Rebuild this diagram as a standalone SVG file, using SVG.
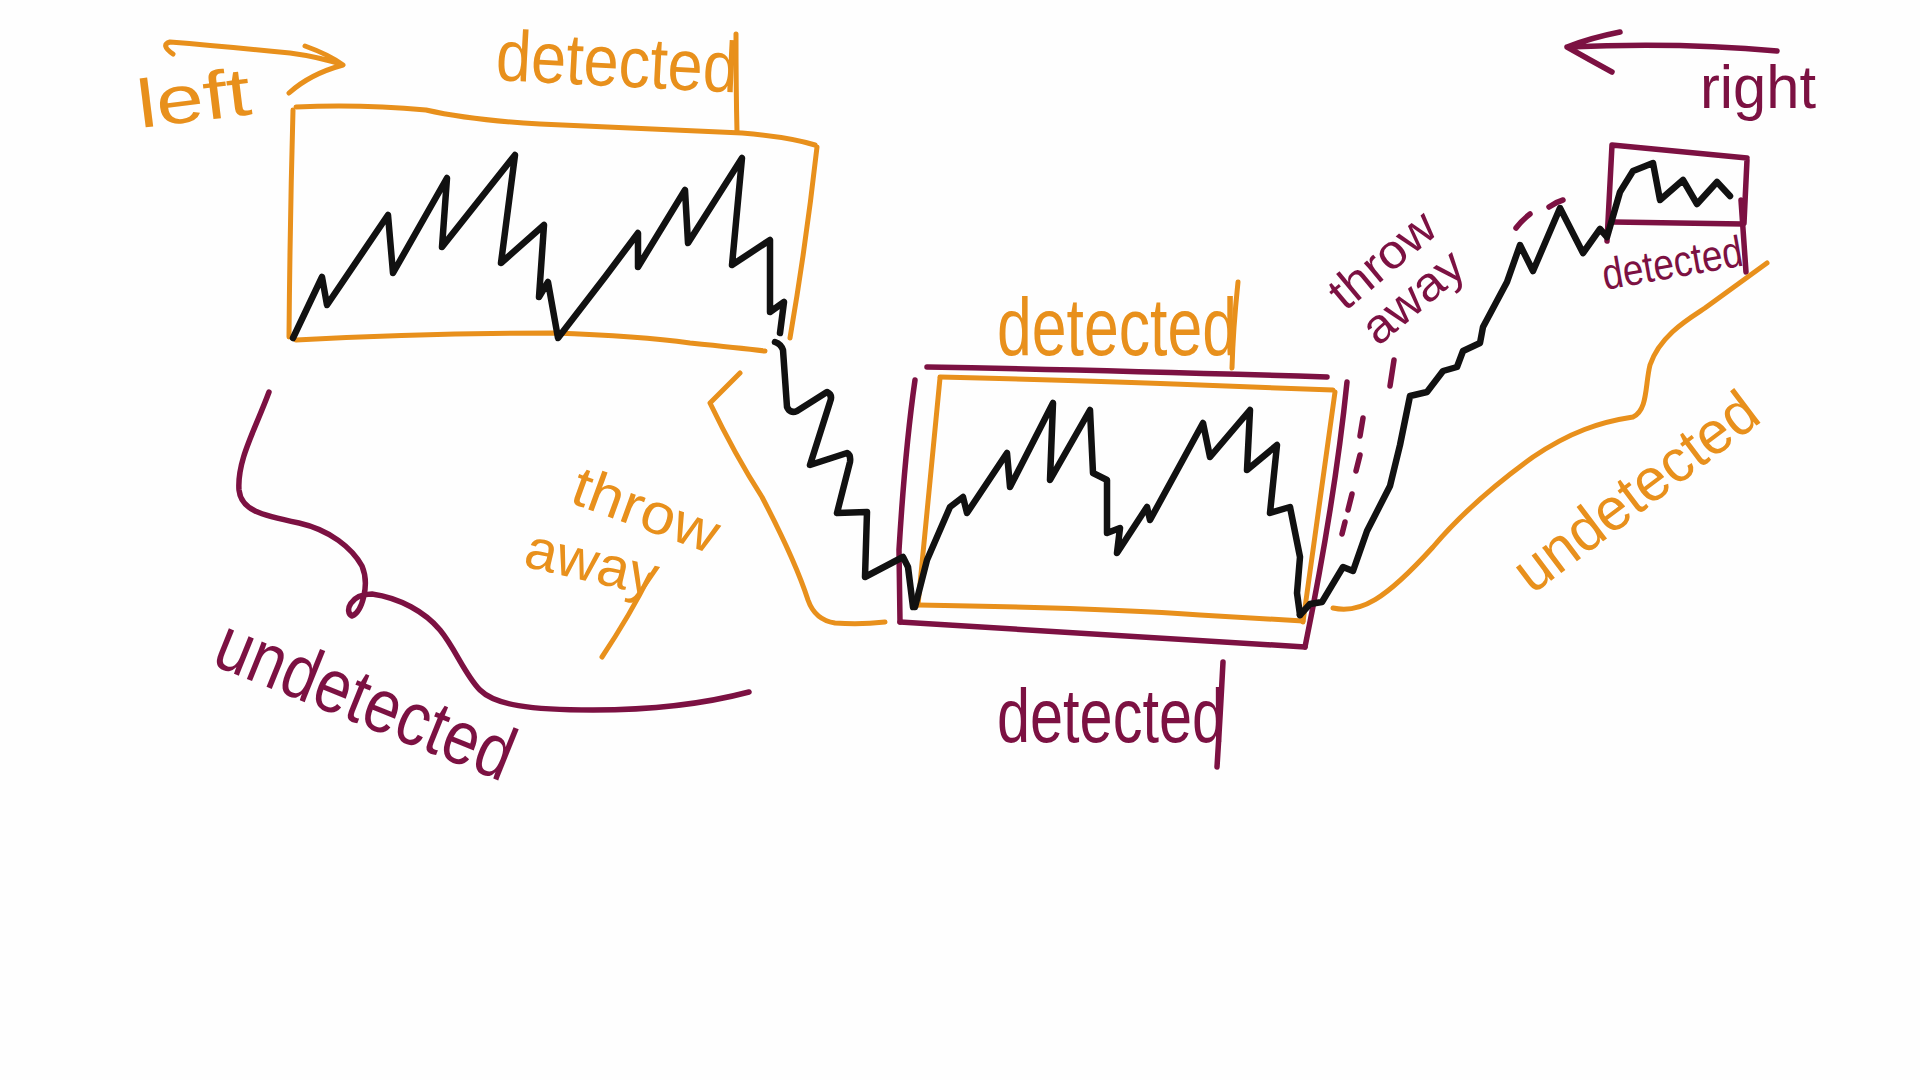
<svg xmlns="http://www.w3.org/2000/svg" width="1920" height="1080" viewBox="0 0 1920 1080">
<style>
.o{fill:none;stroke:#E8901C;stroke-width:5;stroke-linecap:round;stroke-linejoin:round}
.m{fill:none;stroke:#7C1142;stroke-width:5.5;stroke-linecap:round;stroke-linejoin:round}
.k{fill:none;stroke:#111111;stroke-width:6.5;stroke-linecap:round;stroke-linejoin:round}
.to{fill:#E8901C;font-family:"Liberation Sans",Arial,sans-serif}
.tm{fill:#7C1142;font-family:"Liberation Sans",Arial,sans-serif}
</style>
<rect width="1920" height="1080" fill="#FEFEFE"/>

<g id="left-label">
<path class="o" d="M173,54 Q160,45 170,42 Q220,46 290,53 Q320,57 343,65 M305,46 Q330,55 343,65 Q310,74 289,93"/>
<text class="to" x="140" y="128" font-size="68" textLength="114" lengthAdjust="spacingAndGlyphs" transform="rotate(-7 140 128)">left</text>
</g>

<g id="right-label">
<path class="m" d="M1777,51 Q1680,42 1567,47 M1620,32 Q1590,38 1567,47 Q1590,60 1612,72"/>
<text class="tm" x="1700" y="108" font-size="62" textLength="116" lengthAdjust="spacingAndGlyphs">right</text>
</g>

<g id="left-box">
<path class="o" d="M293,110 Q290,220 289,337"/>
<path class="o" d="M296,107 Q360,104 426,110 Q470,120 540,124 L742,133 Q790,137 815,145"/>
<path class="o" d="M817,147 Q806,245 790,338"/>
<path class="o" d="M296,340 Q420,333 553,333 Q640,336 690,343 Q740,348 765,351"/>
<text class="to" x="495" y="80" font-size="72" textLength="242" lengthAdjust="spacingAndGlyphs" transform="rotate(3 495 80)">detected</text>
<path class="o" d="M736,34 Q736,90 737,132"/>
</g>

<g id="middle-box">
<path class="m" d="M927,367 Q1100,370 1327,377"/>
<path class="m" d="M1347,382 Q1335,500 1305,647"/>
<path class="m" d="M900,622 Q1100,635 1305,647"/>
<path class="m" d="M915,380 Q905,450 899,550 L900,622"/>
<path class="o" d="M940,377 Q1100,381 1200,385 L1333,390"/>
<path class="o" d="M1335,392 L1303,622"/>
<path class="o" d="M918,605 Q1100,608 1200,615 L1303,621"/>
<path class="o" d="M940,378 L918,605"/>
<text class="to" x="997" y="355" font-size="82" textLength="240" lengthAdjust="spacingAndGlyphs">detected</text>
<path class="o" d="M1238,282 Q1233,330 1232,368"/>
<text class="tm" x="997" y="742" font-size="76" textLength="228" lengthAdjust="spacingAndGlyphs">detected</text>
<path class="m" d="M1223,662 Q1220,720 1217,767"/>
</g>

<g id="small-box">
<path class="m" d="M1612,145 L1747,158 M1747,160 L1744,223 M1613,222 L1743,224 M1612,145 L1607,241"/>
<text class="tm" x="1605" y="290" font-size="44" textLength="142" lengthAdjust="spacingAndGlyphs" transform="rotate(-10 1605 290)">detected</text>
<path class="m" d="M1741,200 L1746,272"/>
</g>

<g id="throw-away-left">
<text class="to" x="568" y="502" font-size="57" textLength="152" lengthAdjust="spacingAndGlyphs" transform="rotate(20 568 502)">throw</text>
<text class="to" x="522" y="566" font-size="57" textLength="135" lengthAdjust="spacingAndGlyphs" transform="rotate(13 522 566)">away</text>
<path class="o" d="M650,575 Q630,615 602,657"/>
<path class="o" d="M740,373 L710,403 Q735,455 762,497 Q795,560 808,600 Q815,620 835,623 Q860,625 885,622"/>
</g>

<g id="undetected-left">
<path class="m" d="M269,392 C255,430 237,460 239,490 C241,510 260,515 299,523 C330,530 352,548 362,566 C370,585 362,612 352,616 C344,612 350,594 372,594 C400,598 425,612 440,630 C455,648 465,675 480,690 C495,705 530,710 593,710 C650,710 700,705 749,692"/>
<text class="tm" x="210" y="664" font-size="76" textLength="315" lengthAdjust="spacingAndGlyphs" transform="rotate(22 210 664)">undetected</text>
</g>

<g id="throw-away-right">
<text class="tm" x="1345" y="312" font-size="48" textLength="124" lengthAdjust="spacingAndGlyphs" transform="rotate(-40 1345 312)">throw</text>
<text class="tm" x="1378" y="347" font-size="48" textLength="118" lengthAdjust="spacingAndGlyphs" transform="rotate(-40 1378 347)">away</text>
<path class="m" d="M1363,418 l-3,18 M1360,455 l-4,16 M1352,494 l-4,16 M1345,522 l-3,12 M1394,360 l-4,26 M1516,228 Q1522,220 1530,214 M1549,207 Q1556,202 1563,200"/>
</g>

<g id="undetected-right">
<path class="o" d="M1333,608 C1360,614 1385,600 1433,547 C1460,515 1490,488 1533,457 C1570,432 1600,422 1633,417 C1648,410 1645,385 1650,365 C1660,335 1690,318 1705,308 L1767,263"/>
<text class="to" x="1532" y="595" font-size="60" textLength="290" lengthAdjust="spacingAndGlyphs" transform="rotate(-37 1532 595)">undetected</text>
</g>

<g id="connectors">
<path class="k" d="M293,338 L322,277 L327,305 L388,215 L393,273 L447,178 L442,247 L515,155 L501,263 L544,225 L539,297 L548,282 L558,338 L605,277 L638,233 L638,267 L685,190 L688,243 L742,158 L732,265 L770,240 L770,312 L784,302 L780,333"/>
<path class="k" d="M775,342 Q781,344 783,350 L787,407 Q790,414 797,411 L827,392 Q833,395 830,402 L810,465 L847,453 Q851,455 850,462 L837,513 L867,512 L865,577 L903,557 L908,567 L913,607"/>
<path class="k" d="M915,607 L927,560 L950,507 L963,497 L967,513 L1007,453 L1010,487 L1053,403 L1050,480 L1090,410 L1093,473 L1107,480 L1107,533 L1120,528 L1117,553 L1147,507 L1150,520 L1203,423 L1210,457 L1250,410 L1247,470 L1277,445 L1270,513 L1290,507 L1300,557 L1297,593 L1300,615"/>
<path class="k" d="M1300,615 L1310,604 L1322,602 L1343,567 L1353,571 L1367,531 L1390,486 L1400,445 L1410,396 L1427,392 L1443,371 L1457,367 L1463,351 L1480,343 L1483,327 L1507,282 L1520,245 L1533,271 L1560,208 L1583,253 L1600,229 L1607,237 L1620,192 L1633,171 L1653,163 L1660,200 L1683,180 L1697,204 L1717,182 L1730,196"/>
</g>
</svg>
